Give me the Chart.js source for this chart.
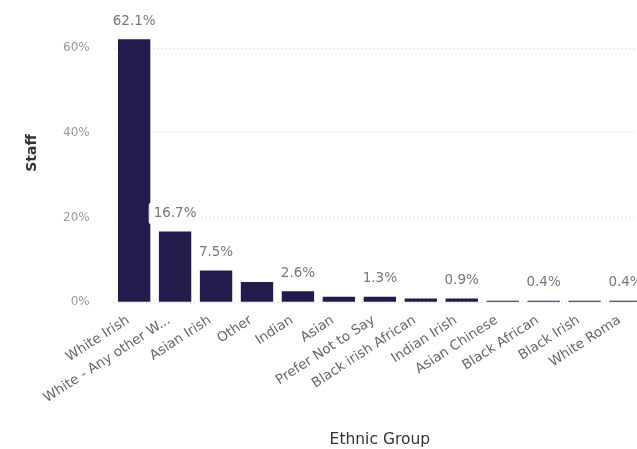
<!DOCTYPE html>
<html>
<head>
<meta charset="utf-8">
<script src="https://cdn.jsdelivr.net/npm/chart.js@4/dist/chart.umd.min.js"></script>
<style>
  html, body { margin: 0; padding: 0; background: #fff; overflow: hidden; }
  #wrap { position: relative; width: 646px; height: 449px; }
</style>
</head>
<body>
<div id="wrap"><canvas id="staffChart" width="646" height="449"></canvas></div>
<script>
// Données du graphique
const groups = ['White Irish', 'White - Any other W...', 'Asian Irish', 'Other', 'Indian', 'Asian',
  'Prefer Not to Say', 'Black irish African', 'Indian Irish', 'Asian Chinese', 'Black African',
  'Black Irish', 'White Roma'];
const staffShare = [62.1, 16.7, 7.5, 4.8, 2.6, 1.3, 1.3, 0.9, 0.9, 0.4, 0.4, 0.4, 0.4];
const labelledBars = [0, 1, 2, 4, 6, 8, 10, 12]; // étiquettes affichées une barre sur deux
const yTicks = [0, 20, 40, 60];

// Étiquettes de valeur au-dessus des barres
const valueLabels = {
  id: 'valueLabels',
  afterDatasetsDraw(chart) {
    const ctx = chart.ctx;
    const meta = chart.getDatasetMeta(0);
    ctx.save();
    ctx.font = '13.5px "DejaVu Sans"';
    ctx.textAlign = 'center';
    ctx.textBaseline = 'middle';
    labelledBars.forEach(i => {
      const bar = meta.data[i];
      const txt = staffShare[i].toFixed(1) + '%';
      const w = ctx.measureText(txt).width;
      const y = bar.y - 18;
      ctx.fillStyle = 'rgba(255,255,255,0.88)';
      ctx.beginPath();
      ctx.roundRect(bar.x - w / 2 - 5, y - 11, w + 10, 22, 3);
      ctx.fill();
      ctx.fillStyle = '#777';
      ctx.fillText(txt, bar.x, y);
    });
    ctx.restore();
  }
};

// Titre de l'axe Y, un peu au-dessus du centre comme dans l'original
const yAxisTitle = {
  id: 'yAxisTitle',
  afterDraw(chart) {
    const ctx = chart.ctx;
    ctx.save();
    ctx.translate(32, 153);
    ctx.rotate(-Math.PI / 2);
    ctx.font = 'bold 14px "DejaVu Sans"';
    ctx.fillStyle = '#333';
    ctx.textAlign = 'center';
    ctx.textBaseline = 'middle';
    ctx.fillText('Staff', 0, 0);
    ctx.restore();
  }
};

const ctx = document.getElementById('staffChart').getContext('2d');
new Chart(ctx, {
  type: 'bar',
  data: {
    labels: groups,
    datasets: [{
      label: 'Staff',
      data: staffShare,
      backgroundColor: '#221b4b',
      barPercentage: 0.79,
      categoryPercentage: 1
    }]
  },
  options: {
    responsive: false,
    animation: false,
    layout: { padding: { top: 13, right: 0, left: 39, bottom: 0 } },
    plugins: {
      legend: { display: false },
      tooltip: { enabled: false }
    },
    scales: {
      y: {
        min: 0,
        max: 64,
        afterBuildTicks: axis => { axis.ticks = yTicks.map(v => ({ value: v })); },
        border: { display: false, dash: [1, 3] },
        grid: { color: '#d0d0d0', drawTicks: false },
        ticks: {
          padding: 24,
          color: '#999',
          font: { family: 'DejaVu Sans', size: 12 },
          callback: v => v + '%'
        }
      },
      x: {
        border: { display: false },
        grid: { display: false },
        ticks: {
          maxRotation: 33,
          minRotation: 33,
          autoSkip: false,
          padding: 2,
          labelOffset: -6,
          color: '#666',
          font: { family: 'DejaVu Sans', size: 13.5 }
        },
        title: {
          display: true,
          text: 'Ethnic Group',
          color: '#333',
          font: { family: 'DejaVu Sans', size: 15.5 },
          padding: { top: 22, bottom: 0 }
        }
      }
    }
  },
  plugins: [valueLabels, yAxisTitle]
});
</script>
</body>
</html>
